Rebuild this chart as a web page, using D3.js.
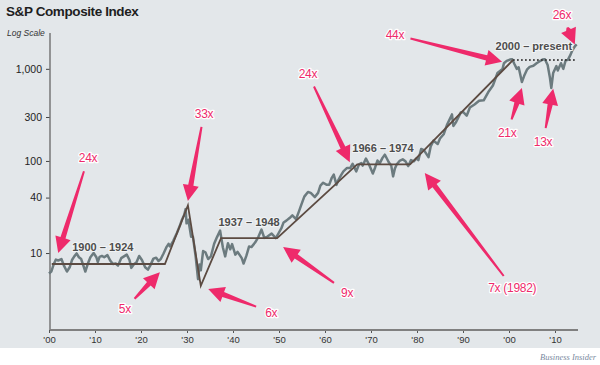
<!DOCTYPE html>
<html>
<head>
<meta charset="utf-8">
<script src="https://cdn.jsdelivr.net/npm/d3@7"></script>
<style>
  body { margin: 0; background: #fff; }
  svg { display: block; font-family: "Liberation Sans", Arial, sans-serif; }
</style>
</head>
<body>
<div id="plot"></div>
<script>
"use strict";

// S&P composite as [year, value]
const indexYears = [1900.0, 1900.5, 1901.0, 1901.5, 1902.0, 1902.7, 1903.3, 1903.9, 1904.5, 1905.0,
    1905.5, 1906.0, 1906.5, 1907.0, 1907.9, 1908.5, 1909.0, 1909.7, 1910.3, 1910.6,
    1911.0, 1911.5, 1912.0, 1912.7, 1913.3, 1913.9, 1914.5, 1915.0, 1915.7, 1916.3,
    1916.9, 1917.5, 1917.9, 1918.5, 1919.0, 1919.6, 1920.2, 1920.9, 1921.5, 1922.0,
    1922.7, 1923.3, 1923.8, 1924.3, 1924.9, 1925.5, 1926.0, 1926.3, 1927.0, 1927.8,
    1928.4, 1928.9, 1929.4, 1929.7, 1929.9, 1930.3, 1930.9, 1931.3, 1931.9, 1932.4,
    1932.7, 1933.0, 1933.5, 1934.0, 1934.6, 1935.2, 1935.9, 1936.5, 1937.2, 1937.8,
    1938.3, 1938.9, 1939.4, 1939.8, 1940.5, 1941.0, 1941.9, 1942.3, 1942.9, 1943.5,
    1944.0, 1944.8, 1945.5, 1946.2, 1946.8, 1947.5, 1948.4, 1949.3, 1949.9, 1950.5,
    1951.0, 1951.6, 1952.3, 1952.9, 1953.7, 1954.3, 1954.9, 1955.5, 1956.3, 1956.9,
    1957.8, 1958.5, 1959.0, 1959.6, 1960.4, 1960.9, 1961.5, 1961.9, 1962.5, 1962.9,
    1963.5, 1964.0, 1964.8, 1965.5, 1966.0, 1966.8, 1967.4, 1967.9, 1968.2, 1968.9,
    1969.5, 1970.4, 1970.9, 1971.4, 1971.9, 1972.5, 1973.0, 1973.5, 1973.9, 1974.4,
    1974.8, 1975.2, 1975.6, 1976.3, 1976.9, 1977.5, 1978.1, 1978.7, 1979.3, 1979.9,
    1980.3, 1980.9, 1981.5, 1982.5, 1983.0, 1983.6, 1984.5, 1985.0, 1985.8, 1986.5,
    1987.6, 1987.9, 1988.5, 1989.5, 1990.0, 1990.8, 1991.5, 1992.5, 1993.5, 1994.5,
    1995.5, 1996.5, 1997.5, 1998.6, 1998.9, 1999.5, 2000.2, 2000.7, 2001.2, 2001.7,
    2002.1, 2002.8, 2003.3, 2003.9, 2004.5, 2005.3, 2006.0, 2006.6, 2007.3, 2007.8,
    2008.4, 2008.9, 2009.2, 2009.6, 2010.3, 2010.6, 2011.3, 2011.8, 2012.3, 2012.8,
    2013.3, 2013.8, 2014.3, 2014.7];
const indexValues = [6.0, 6.3, 7.5, 8.5, 8.3, 8.6, 7.2, 6.3, 7.0, 8.4,
    9.2, 9.9, 9.0, 8.6, 6.3, 7.8, 9.0, 10.0, 9.0, 8.0,
    9.1, 9.3, 9.0, 9.5, 8.3, 7.6, 7.7, 7.3, 8.8, 9.2,
    9.6, 8.4, 6.9, 7.6, 7.9, 9.3, 8.4, 7.0, 6.6, 7.3,
    8.7, 8.9, 8.2, 8.6, 9.9, 11.5, 12.6, 11.8, 13.5, 16.5,
    19.5, 23, 26, 30, 21, 23, 15, 15, 9, 5.2,
    7.5, 6.5, 10.5, 10.2, 8.6, 9.2, 12.6, 14.8, 17.5, 11.5,
    9.2, 12.8, 11.0, 12.5, 9.6, 10.3, 8.8, 7.7, 9.3, 11.8,
    11.6, 13.0, 14.9, 18.0, 14.6, 15.1, 16.3, 14.5, 16.4, 18.5,
    21.5, 22.5, 24, 25.7, 23.3, 28, 34, 41, 46, 45,
    40.5, 45, 54, 58, 55, 55, 66, 71, 55, 62,
    70, 77, 84, 84, 93, 77, 92, 95, 89, 106,
    93, 73, 85, 101, 94, 108, 117, 105, 96, 89,
    68, 83, 92, 101, 104, 99, 88, 102, 99, 107,
    102, 135, 131, 110, 145, 166, 153, 175, 195, 245,
    320, 240, 265, 335, 340, 310, 380, 410, 450, 455,
    560, 660, 900, 1000, 1150, 1220, 1260, 1270, 1120, 1000,
    1040, 720, 840, 980, 1050, 1080, 1150, 1200, 1260, 1270,
    1100, 800, 620, 900, 1070, 960, 1150, 1000, 1230, 1250,
    1400, 1600, 1750, 1840];

// brown trend segments
const trendYears = [1900.6, 1925.2, 1930.2, 1933.0, 1937.4, 1949.6, 1967.0, 1978.5, 2000.9];
const trendValues = [7.6, 7.6, 33, 4.4, 14.5, 14.5, 92, 92, 1250];
const flatYears = [2000.9, 2014.3];
const flatValues = [1250, 1250];

// period labels
const periodText = ["1900 \u2013 1924", "1937 \u2013 1948", "1966 \u2013 1974", "2000 \u2013 present"];
const periodYears = [1911.7, 1943.5, 1972.6, 2005.4];
const periodValues = [11.6, 21.7, 138, 1778];

// pink callouts: label point and arrow tip, in data units
const calloutText = ["24x", "5x", "33x", "6x", "24x", "9x", "7x (1982)", "44x", "21x", "13x", "26x"];
const calloutYears = [1908.5, 1916.5, 1933.7, 1948.3, 1956.3, 1964.8, 2000.7, 1975.2, 1999.6, 2007.4, 2011.5];
const calloutValues = [108, 2.47, 331, 2.28, 884, 3.77, 4.27, 2350, 202, 161, 3900];
const tipYears = [1902.0, 1924.1, 1930.2, 1934.6, 1965.4, 1950.9, 1981.7, 1998.5, 2002.8, 2009.6, 2014.3];
const tipValues = [10, 6.2, 36.7, 4.07, 97, 11.6, 74, 1194, 621, 608, 1833];

const yTicks = [10, 40, 100, 300, 1000];
const xTicks = [1900, 1910, 1920, 1930, 1940, 1950, 1960, 1970, 1980, 1990, 2000, 2010];
const xTickLabels = ["'00", "'10", "'20", "'30", "'40", "'50", "'60", "'70", "'80", "'90", "'00", "'10"];

const msm = {
    width: 600,
    height: 365,
    left: 50,
    right: 578,
    top: 33,
    bottom: 330,
    panelBottom: 348
};

const pink = "#ee2a6b";

let svg = d3.select("#plot").append("svg")
    .attr("width", msm.width)
    .attr("height", msm.height);

// grey panel
svg.append("rect")
    .attr("x", 0).attr("y", 0)
    .attr("width", msm.width).attr("height", msm.panelBottom)
    .attr("fill", "#e3e7ea");

let x = d3.scaleLinear().domain([1900, 2015]).range([msm.left - 1, msm.right]);
let y = d3.scaleLog().domain([1.46, 2450]).range([msm.bottom, msm.top]);

// title
svg.append("text")
    .attr("x", 6).attr("y", 16)
    .style("font-size", "13.5px")
    .style("font-weight", "bold")
    .style("letter-spacing", "-0.4px")
    .attr("fill", "#1e1e1e")
    .text("S&P Composite Index");

svg.append("text")
    .attr("x", 7).attr("y", 36)
    .style("font-size", "8.5px")
    .style("font-style", "italic")
    .attr("fill", "#333")
    .text("Log Scale");

// y axis
let yAxis = d3.axisLeft(y)
    .tickValues(yTicks)
    .tickFormat(d3.format(","))
    .tickSize(4)
    .tickPadding(4);
let gy = svg.append("g")
    .attr("transform", "translate(" + msm.left + ",0)")
    .call(yAxis);
gy.select(".domain").remove();
gy.selectAll("text").style("font-size", "10.5px").attr("fill", "#222");
gy.selectAll("line").attr("stroke", "#444");
svg.append("line")
    .attr("x1", msm.left).attr("x2", msm.left)
    .attr("y1", msm.top).attr("y2", msm.bottom)
    .attr("stroke", "#777").attr("stroke-width", 1.5);

// x axis
let xAxis = d3.axisBottom(x)
    .tickValues(xTicks)
    .tickFormat((d, i) => xTickLabels[i])
    .tickSize(3)
    .tickPadding(3);
let gx = svg.append("g")
    .attr("transform", "translate(0," + msm.bottom + ")")
    .call(xAxis);
gx.select(".domain").remove();
gx.selectAll("text").style("font-size", "9.5px").attr("fill", "#333");
gx.selectAll("line").attr("stroke", "#555");
svg.append("line")
    .attr("x1", msm.left).attr("x2", msm.right)
    .attr("y1", msm.bottom).attr("y2", msm.bottom)
    .attr("stroke", "#808080").attr("stroke-width", 2);

// index line
let line = d3.line()
    .x((d) => x(d[0]))
    .y((d) => y(d[1]));

let indexData = indexYears.map((yr, i) => [yr, indexValues[i]]);
svg.append("path")
    .datum(indexData)
    .attr("d", line)
    .attr("fill", "none")
    .attr("stroke", "#6c7b7f")
    .attr("stroke-width", 2.5)
    .attr("stroke-linejoin", "round");

// trend lines
svg.append("path")
    .datum(trendYears.map((yr, i) => [yr, trendValues[i]]))
    .attr("d", line)
    .attr("fill", "none")
    .attr("stroke", "#5c4b42")
    .attr("stroke-width", 1.8);

svg.append("path")
    .datum(flatYears.map((yr, i) => [yr, flatValues[i]]))
    .attr("d", line)
    .attr("fill", "none")
    .attr("stroke", "#3a3a3a")
    .attr("stroke-width", 2)
    .attr("stroke-dasharray", "1.5,2.5");

// period labels
svg.append("g")
    .selectAll("text")
    .data(periodText)
    .enter()
    .append("text")
    .attr("x", (d, i) => x(periodYears[i]))
    .attr("y", (d, i) => y(periodValues[i]) + 4)
    .attr("text-anchor", "middle")
    .style("font-size", "11px")
    .style("font-weight", "bold")
    .attr("fill", "#4d4d4d")
    .attr("stroke", "#f2f4f5")
    .attr("stroke-width", 2)
    .style("paint-order", "stroke")
    .text((d) => d);

// arrows: tail widening into a big head
function arrowPath(x0, y0, x1, y1) {
    let dx = x1 - x0, dy = y1 - y0;
    let len = Math.sqrt(dx * dx + dy * dy);
    let ux = dx / len, uy = dy / len;
    let px = -uy, py = ux;
    let head = 16, hw = 8, tw = 2.6;
    let bx = x1 - ux * head, by = y1 - uy * head;
    let pts = [
        [x0 + px * 1, y0 + py * 1],
        [bx + px * tw, by + py * tw],
        [bx + px * hw, by + py * hw],
        [x1, y1],
        [bx - px * hw, by - py * hw],
        [bx - px * tw, by - py * tw],
        [x0 - px * 1, y0 - py * 1]
    ];
    return "M" + pts.map((p) => p[0].toFixed(1) + "," + p[1].toFixed(1)).join("L") + "Z";
}

let callouts = svg.append("g");
calloutText.forEach((t, i) => {
    let lx = x(calloutYears[i]), ly = y(calloutValues[i]);
    let tx = x(tipYears[i]), ty = y(tipValues[i]);
    let dx = tx - lx, dy = ty - ly;
    let len = Math.sqrt(dx * dx + dy * dy);
    let gap = Math.abs(dy) / len > 0.6 ? 14 : (t.length > 4 ? 28 : 16);
    let sx = lx + dx / len * gap, sy = ly + dy / len * gap;
    callouts.append("path")
        .attr("d", arrowPath(sx, sy, tx, ty))
        .attr("fill", pink);
    callouts.append("text")
        .attr("x", lx).attr("y", ly + 4.5)
        .attr("text-anchor", "middle")
        .style("font-size", "12px")
        .style("letter-spacing", "-0.3px")
        .attr("fill", pink)
        .attr("stroke", "#ffffff")
        .attr("stroke-width", 2.5)
        .attr("stroke-linejoin", "round")
        .style("paint-order", "stroke")
        .text(t);
});

// source
svg.append("text")
    .attr("x", 596).attr("y", 360)
    .attr("text-anchor", "end")
    .style("font-family", "'Liberation Serif', serif")
    .style("font-style", "italic")
    .style("font-size", "8.5px")
    .attr("fill", "#7a8aa0")
    .text("Business Insider");
</script>
</body>
</html>
